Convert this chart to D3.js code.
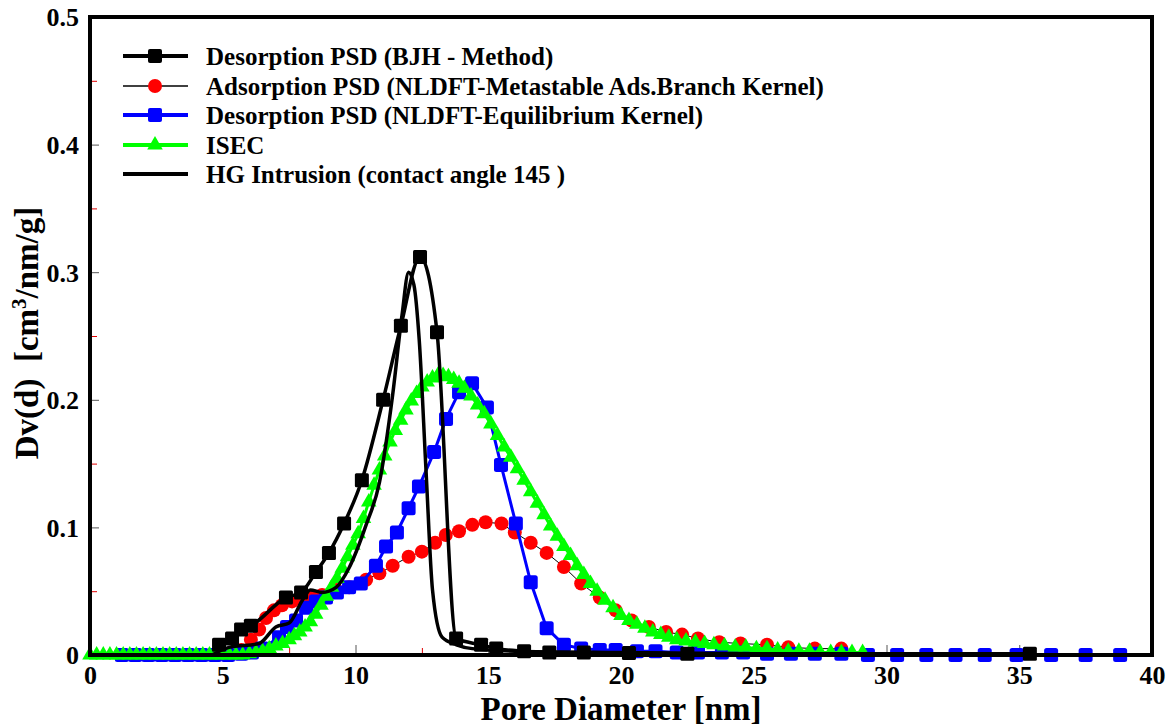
<!DOCTYPE html>
<html>
<head>
<meta charset="utf-8">
<script src="https://cdn.jsdelivr.net/npm/d3@7"></script>
<style>
  body { margin: 0; background: #fff; }
  svg text { font-family: "Liberation Serif", "Times New Roman", Times, serif; font-weight: bold; fill: #000; }
</style>
</head>
<body>
<svg id="chart" width="1167" height="726"></svg>
<script>
// ---- data ----
const bjhX = [4.86, 5.35, 5.69, 6.06, 7.38, 7.95, 8.51, 9.0, 9.57, 10.24, 11.04, 11.71, 12.43, 13.07, 13.79, 14.73, 15.3, 16.35, 17.3, 18.6, 20.3, 22.5, 35.4];
const bjhY = [0.008, 0.013, 0.020, 0.023, 0.045, 0.049, 0.065, 0.080, 0.103, 0.137, 0.200, 0.258, 0.312, 0.253, 0.013, 0.008, 0.005, 0.003, 0.002, 0.002, 0.0015, 0.001, 0.001];

const adsX = [5.7, 6.06, 6.37, 6.63, 6.93, 7.23, 7.61, 7.98, 8.36, 8.74, 9.27, 9.76, 10.4, 10.9, 11.4, 12.0, 12.5, 13.0, 13.4, 13.9, 14.4, 14.9, 15.5, 16.0, 16.6, 17.2, 17.85, 18.5, 19.2, 19.8, 20.4, 21.05, 21.7, 22.3, 22.9, 23.7, 24.5, 25.5, 26.3, 27.3, 28.3];
const adsY = [0.004, 0.012, 0.020, 0.029, 0.035, 0.039, 0.042, 0.043, 0.045, 0.047, 0.051, 0.053, 0.059, 0.064, 0.070, 0.077, 0.081, 0.088, 0.094, 0.097, 0.102, 0.104, 0.103, 0.096, 0.088, 0.080, 0.069, 0.056, 0.045, 0.035, 0.027, 0.022, 0.018, 0.016, 0.013, 0.010, 0.009, 0.008, 0.006, 0.005, 0.005];

const desX = [1.2, 1.7, 2.2, 2.7, 3.2, 3.7, 4.2, 4.7, 5.2, 5.7, 6.1, 6.48, 7.12, 7.42, 7.76, 8.14, 8.51, 8.89, 9.30, 9.76, 10.2, 10.77, 11.15, 11.56, 12.0, 12.39, 12.96, 13.41, 13.9, 14.39, 14.95, 15.48, 16.04, 16.6, 17.2, 17.85, 18.5, 19.2, 19.8, 20.6, 21.3, 22.1, 22.9, 23.8, 24.6, 25.5, 26.4, 27.3, 28.3, 29.3, 30.4, 31.5, 32.6, 33.7, 34.9, 36.2, 37.5, 38.8];
const desY = [0, 0, 0, 0, 0, 0, 0, 0, 0, 0.001, 0.002, 0.005, 0.014, 0.022, 0.027, 0.037, 0.042, 0.045, 0.049, 0.053, 0.056, 0.070, 0.085, 0.096, 0.115, 0.132, 0.159, 0.185, 0.206, 0.213, 0.194, 0.149, 0.103, 0.057, 0.021, 0.008, 0.005, 0.004, 0.004, 0.003, 0.003, 0.002, 0.002, 0.002, 0.002, 0.001, 0.001, 0.001, 0.001, 0, 0, 0, 0, 0, 0, 0, 0, 0];

const isecX = [0, 0.25, 0.5, 0.75, 1, 1.25, 1.5, 1.75, 2, 2.25, 2.5, 2.75, 3, 3.25, 3.5, 3.75, 4, 4.25, 4.5, 4.75, 5, 5.25, 5.5, 5.75, 6, 6.25, 6.5, 6.75,
  7.0, 7.25, 7.5, 7.7, 7.9, 8.1, 8.3, 8.5, 8.7, 8.9, 9.1, 9.3, 9.5, 9.7, 9.9, 10.1, 10.3, 10.5, 10.7, 10.9, 11.1, 11.3, 11.5, 11.7, 11.9, 12.1, 12.3, 12.5, 12.7, 12.9, 13.1, 13.3, 13.5, 13.7, 13.9, 14.1,
  14.35, 14.6, 14.85, 15.1, 15.35, 15.6, 15.85, 16.1, 16.35, 16.6, 16.85, 17.1, 17.35, 17.6, 17.85, 18.1, 18.35, 18.6, 18.85, 19.1, 19.4, 19.7, 20.0, 20.3, 20.6, 20.9, 21.2, 21.5, 21.8, 22.1, 22.45, 22.8, 23.15, 23.5, 23.9, 24.3, 24.7, 25.1, 25.5, 25.9, 26.3, 26.7, 27.1, 27.5, 27.9, 28.3, 28.7, 29.1];
const isecY = [0, 0, 0, 0, 0, 0, 0, 0, 0, 0, 0, 0, 0, 0, 0, 0, 0, 0, 0, 0, 0, 0, 0, 0, 0.001, 0.002, 0.003, 0.005,
  0.007, 0.009, 0.012, 0.015, 0.018, 0.022, 0.026, 0.032, 0.039, 0.046, 0.053, 0.060, 0.068, 0.077, 0.086, 0.095, 0.107, 0.120, 0.133, 0.145, 0.156, 0.167, 0.176, 0.184, 0.192, 0.199, 0.205, 0.210, 0.214, 0.217, 0.219, 0.219, 0.218, 0.216, 0.213, 0.209,
  0.203, 0.196, 0.189, 0.181, 0.172, 0.163, 0.155, 0.146, 0.137, 0.128, 0.119, 0.110, 0.101, 0.093, 0.085, 0.078, 0.070, 0.063, 0.056, 0.050, 0.043, 0.037, 0.031, 0.027, 0.024, 0.021, 0.018, 0.016, 0.014, 0.012, 0.011, 0.010, 0.009, 0.008, 0.007, 0.006, 0.006, 0.005, 0.005, 0.004, 0.003, 0.003, 0.003, 0.002, 0.002, 0.002, 0.002, 0.002];

const hgX = [4.6, 5.24, 6.37, 7.0, 7.5, 8.0, 8.3, 8.74, 9.27, 9.75, 10.4, 10.9, 11.4, 11.75, 12.0, 12.2, 12.4, 12.66, 12.9, 13.26, 13.8, 14.4, 16, 20, 25, 30];
const hgY = [0.0, 0.006, 0.009, 0.022, 0.025, 0.043, 0.051, 0.049, 0.053, 0.068, 0.102, 0.135, 0.204, 0.266, 0.300, 0.290, 0.247, 0.143, 0.051, 0.014, 0.008, 0.005, 0.003, 0.002, 0.001, 0.0005];

const xTicks = [0, 5, 10, 15, 20, 25, 30, 35, 40];
const xMinor = [2.5, 7.5, 12.5, 17.5, 22.5, 27.5, 32.5, 37.5];
const yTicks = [0, 0.1, 0.2, 0.3, 0.4, 0.5];
const yMinor = [0.05, 0.15, 0.25, 0.35, 0.45];

const legendLabels = [
  "Desorption PSD (BJH - Method)",
  "Adsorption PSD (NLDFT-Metastable Ads.Branch Kernel)",
  "Desorption PSD (NLDFT-Equilibrium Kernel)",
  "ISEC",
  "HG Intrusion (contact angle 145 )"
];

// ---- chart ----
const svg = d3.select("#chart");
const L = 90, R = 1152, T = 17, B = 655;

const x = d3.scaleLinear().domain([0, 40]).range([L, R]);
const y = d3.scaleLinear().domain([0, 0.5]).range([B, T]);

const zip = (xs, ys) => xs.map((v, i) => [v, ys[i]]);
const bjh = zip(bjhX, bjhY), ads = zip(adsX, adsY), des = zip(desX, desY), isec = zip(isecX, isecY), hg = zip(hgX, hgY);

// ticks (inside)
const gy = svg.append("g").attr("transform", `translate(${L},0)`)
  .call(d3.axisLeft(y).tickValues(yTicks).tickSize(-9).tickPadding(11).tickFormat(d => d === 0 ? "0" : d3.format(".1f")(d)));
gy.select(".domain").remove();
gy.selectAll(".tick line").attr("stroke", "#555").attr("stroke-width", 1);
gy.selectAll("text").style("font-size", "26px").attr("dy", "0.34em");

const gym = svg.append("g").attr("transform", `translate(${L},0)`)
  .call(d3.axisLeft(y).tickValues(yMinor).tickSize(-7).tickFormat(""));
gym.select(".domain").remove();
gym.selectAll(".tick line").attr("stroke", "#e00000").attr("stroke-width", 1);

const gx = svg.append("g").attr("transform", `translate(0,${B})`)
  .call(d3.axisBottom(x).tickValues(xTicks).tickSize(-10).tickPadding(11).tickFormat(d3.format("d")));
gx.select(".domain").remove();
gx.selectAll(".tick line").attr("stroke", "#555").attr("stroke-width", 1);
gx.selectAll("text").style("font-size", "26px");

const gxm = svg.append("g").attr("transform", `translate(0,${B})`)
  .call(d3.axisBottom(x).tickValues(xMinor).tickSize(-7).tickFormat(""));
gxm.select(".domain").remove();
gxm.selectAll(".tick line").attr("stroke", "#e00000").attr("stroke-width", 1);

// axis titles
svg.append("text")
  .attr("x", (L + R) / 2).attr("y", 720)
  .attr("text-anchor", "middle")
  .style("font-size", "33px")
  .text("Pore Diameter [nm]");

const yt = svg.append("text")
  .attr("transform", `translate(38,333) rotate(-90)`)
  .attr("text-anchor", "middle")
  .style("font-size", "33px");
yt.append("tspan").text("Dv(d)\u00a0\u00a0[cm");
yt.append("tspan").attr("dy", -12).style("font-size", "21px").text("3");
yt.append("tspan").attr("dy", 12).text("/nm/g]");

// series
const line = (curve) => d3.line().x(d => x(d[0])).y(d => y(d[1])).curve(curve);
const sq = (g, data, s, fill, rx) => g.selectAll("rect").data(data).join("rect")
  .attr("x", d => x(d[0]) - s / 2).attr("y", d => y(d[1]) - s / 2)
  .attr("width", s).attr("height", s).attr("rx", rx).attr("fill", fill);

// adsorption (red circles, thin black line)
const gAds = svg.append("g");
gAds.append("path").datum(ads).attr("d", line(d3.curveLinear))
  .attr("fill", "none").attr("stroke", "#000").attr("stroke-width", 1);
gAds.selectAll("circle").data(ads).join("circle")
  .attr("cx", d => x(d[0])).attr("cy", d => y(d[1])).attr("r", 7).attr("fill", "#ff0000");

// desorption NLDFT (blue)
const gDes = svg.append("g");
gDes.append("path").datum(des).attr("d", line(d3.curveLinear))
  .attr("fill", "none").attr("stroke", "#0000ff").attr("stroke-width", 3);
sq(gDes, des, 14, "#0000ff", 2.5);

// ISEC (green triangles)
const gIs = svg.append("g");
gIs.append("path").datum(isec).attr("d", line(d3.curveLinear))
  .attr("fill", "none").attr("stroke", "#00ff00").attr("stroke-width", 3);
const tri = d3.symbol().type(d3.symbolTriangle).size(105);
gIs.selectAll("path.m").data(isec).join("path").attr("class", "m")
  .attr("transform", d => `translate(${x(d[0])},${y(d[1])})`)
  .attr("d", tri).attr("fill", "#00ff00");

// BJH (black squares)
const gBjh = svg.append("g");
gBjh.append("path").datum(bjh).attr("d", line(d3.curveMonotoneX))
  .attr("fill", "none").attr("stroke", "#000").attr("stroke-width", 3.5);
sq(gBjh, bjh, 14, "#000", 1.5);

// Hg intrusion (black line)
svg.append("path").datum(hg).attr("d", line(d3.curveMonotoneX))
  .attr("fill", "none").attr("stroke", "#000").attr("stroke-width", 3.5);

// frame
svg.append("rect").attr("x", L).attr("y", T).attr("width", R - L).attr("height", B - T)
  .attr("fill", "none").attr("stroke", "#000").attr("stroke-width", 4);

// legend
const lg = svg.append("g");
const rowY = [56, 86, 115, 145, 174];
const lx0 = 123, lx1 = 188, lmx = 155;
const legStyle = [
  { stroke: "#000", w: 4, mark: "sq", fill: "#000" },
  { stroke: "#000", w: 1.5, mark: "circ", fill: "#ff0000" },
  { stroke: "#0000ff", w: 4, mark: "sq", fill: "#0000ff" },
  { stroke: "#00ff00", w: 4, mark: "tri", fill: "#00ff00" },
  { stroke: "#000", w: 4, mark: null }
];
legendLabels.forEach((lab, i) => {
  const yy = rowY[i], st = legStyle[i];
  lg.append("line").attr("x1", lx0).attr("x2", lx1).attr("y1", yy).attr("y2", yy)
    .attr("stroke", st.stroke).attr("stroke-width", st.w);
  if (st.mark === "sq") lg.append("rect").attr("x", lmx - 7).attr("y", yy - 7).attr("width", 14).attr("height", 14).attr("rx", 2).attr("fill", st.fill);
  if (st.mark === "circ") lg.append("circle").attr("cx", lmx).attr("cy", yy).attr("r", 7).attr("fill", st.fill);
  if (st.mark === "tri") lg.append("path").attr("transform", `translate(${lmx},${yy})`).attr("d", tri).attr("fill", st.fill);
  lg.append("text").attr("x", 206).attr("y", yy + 9).style("font-size", "25px").text(lab);
});
</script>
</body>
</html>
